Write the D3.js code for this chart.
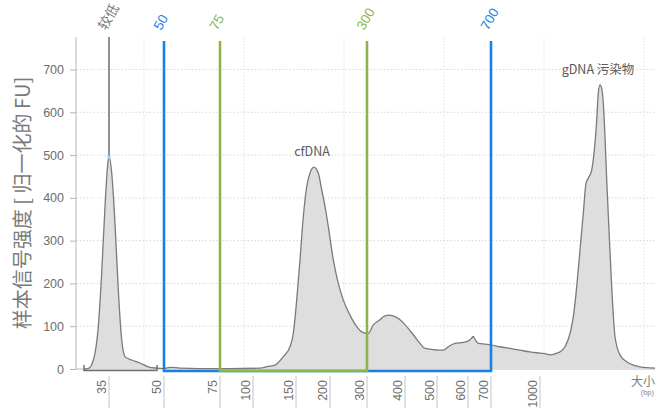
<!DOCTYPE html>
<html>
<head>
<meta charset="utf-8">
<script src="https://cdn.jsdelivr.net/npm/d3@7/dist/d3.min.js"></script>
<style>
  html, body { margin: 0; padding: 0; background: #fff; }
  svg { display: block; }
  text { font-family: "Liberation Sans", Arial, sans-serif; }
  .cjk { font-family: "Noto Sans CJK SC", "Noto Sans", sans-serif; }
</style>
</head>
<body>
<svg id="chart" width="669" height="408"></svg>
<script>
// Electropherogram: sample signal vs. migration time, sized with a bp ladder.

// Ladder calibration: fragment size (bp) and the migration time at which it runs (s)
const ladderSizes = [35, 50, 75, 100, 150, 200, 300, 400, 500, 600, 700, 1000];
const ladderTimes = [6.5, 12.0, 17.6, 20.9, 25.2, 28.6, 32.3, 36.1, 39.3, 42.4, 44.7, 49.6];

// Sample trace: migration time (s) and normalized signal (FU)
const traceTime = [
  4.0, 4.4, 4.7, 4.93, 5.1, 5.43, 5.77, 6.1, 6.43, 6.53, 6.77, 7.1, 7.43, 7.77, 8.1, 8.77, 9.6, 10.43, 11.27,
  12.0, 12.6, 13.6, 15.6, 18.6, 21.6, 22.4, 23.1, 23.93, 24.6, 24.93, 25.27, 25.6, 25.93, 26.27, 26.6, 27.0,
  27.43, 27.77, 28.1, 28.43, 28.93, 29.43, 29.93, 30.6, 31.27, 31.93, 32.43, 32.93, 33.6, 33.93, 34.43, 34.93,
  35.6, 36.27, 36.93, 37.6, 38.1, 38.77, 39.43, 39.93, 40.43, 41.1, 41.93, 42.6, 42.93, 43.1, 43.43, 44.1,
  44.77, 45.6, 46.6, 47.6, 48.6, 49.6, 50.27, 50.6, 51.27, 51.6, 52.1, 52.6, 52.93, 53.27, 53.6, 53.93, 54.2,
  54.43, 54.77, 55.0, 55.27, 55.43, 55.6, 55.77, 55.93, 56.1, 56.27, 56.5, 56.77, 57.1, 57.6, 58.27, 58.93,
  59.6, 60.27, 61.1
];
const traceFU = [
  0, 1, 7, 21, 37, 99, 225, 380, 489, 495, 458, 341, 185, 68, 29, 21, 14, 5, 2,
  1, 4, 2, 1, 1, 2, 6, 9, 29, 52, 83, 161, 255, 356, 426, 458, 472,
  458, 419, 380, 333, 255, 200, 161, 126, 99, 85, 83, 103, 115, 122, 126, 124,
  115, 99, 80, 60, 48, 46, 44, 44, 52, 60, 62, 68, 76, 69, 60, 58,
  56, 52, 48, 44, 40, 37, 35, 33, 37, 40, 52, 83, 122, 192, 278, 364, 434,
  446, 465, 504, 582, 645, 664, 656, 621, 543, 442, 325, 192, 76, 33, 17, 9,
  5, 3, 2
];

// Axis ticks
const yTicks = [0, 100, 200, 300, 400, 500, 600, 700];
const timeGrid = [10, 20, 30, 40, 50, 60];

// Lower marker and size windows
const markerSize = 35;
const markerLabel = "较低";
const markerWindow = [4.0, 11.3];
const outerWindow = [50, 700];
const innerWindow = [75, 300];

// Peak annotations
const peakNotes = [
  { text: "cfDNA", time: 27.0, fu: 472 },
  { text: "gDNA 污染物", time: 55.6, fu: 664 }
];

const yTitle = "样本信号强度 [ 归一化的 FU]";
const xTitle = "大小";
const xUnit = "(bp)";

const BLUE = "#1a7fe6";
const GREEN = "#8ab54b";

const svg = d3.select("#chart");
const plotLeft = 76, plotRight = 655, plotTop = 37, plotBottom = 369;

const x = d3.scaleLinear().domain([3.2, 61.1]).range([plotLeft, plotRight]);
const y = d3.scaleLinear().domain([0, 776]).range([plotBottom, plotTop]);
const bpToTime = d3.scaleLinear().domain(ladderSizes).range(ladderTimes);
const xb = bp => x(bpToTime(bp));

// Grid
const grid = svg.append("g");
grid.selectAll("line.h").data(yTicks.filter(d => d > 0)).join("line")
  .attr("x1", plotLeft).attr("x2", plotRight)
  .attr("y1", d => y(d)).attr("y2", d => y(d))
  .attr("stroke", "#d6d6d6").attr("stroke-width", 1).attr("stroke-dasharray", "1.5,2");
grid.selectAll("line.v").data(timeGrid).join("line")
  .attr("x1", d => x(d)).attr("x2", d => x(d))
  .attr("y1", plotTop).attr("y2", plotBottom)
  .attr("stroke", "#e0e0e0").attr("stroke-width", 1).attr("stroke-dasharray", "1.5,2");

// Y axis
const yAxis = svg.append("g").attr("transform", `translate(${plotLeft},0)`)
  .call(d3.axisLeft(y).tickValues(yTicks).tickSize(6).tickPadding(6));
yAxis.select(".domain").attr("stroke", "#b5b5b5").attr("d", `M0,${plotTop}V${plotBottom}`);
yAxis.selectAll(".tick line").attr("stroke", "#b5b5b5");
yAxis.selectAll(".tick text").attr("fill", "#6e6e6e").attr("font-size", 12.5);

svg.append("text").attr("class", "cjk")
  .attr("transform", `translate(30,${(plotTop + plotBottom) / 2}) rotate(-90)`)
  .attr("text-anchor", "middle").attr("fill", "#7a7a7a").attr("font-size", 20)
  .text(yTitle);

// X baseline
svg.append("line").attr("x1", plotLeft).attr("x2", plotRight).attr("y1", y(0)).attr("y2", y(0))
  .attr("stroke", "#bdbdbd").attr("stroke-width", 1.2);

// Trace
const pts = traceTime.map((t, i) => [t, traceFU[i]]);
svg.append("path").datum(pts)
  .attr("fill", "#dedede")
  .attr("d", d3.area().x(d => x(d[0])).y0(y(0)).y1(d => y(d[1])).curve(d3.curveMonotoneX));
svg.append("path").datum(pts)
  .attr("fill", "none").attr("stroke", "#7a7a7a").attr("stroke-width", 1.3)
  .attr("d", d3.line().x(d => x(d[0])).y(d => y(d[1])).curve(d3.curveMonotoneX));

// Lower marker line and bracket
const markerPeak = d3.max(pts.filter(p => p[0] < markerWindow[1]), p => p[1]);
svg.append("line")
  .attr("x1", xb(markerSize)).attr("x2", xb(markerSize))
  .attr("y1", plotTop).attr("y2", y(markerPeak))
  .attr("stroke", "#6d7580").attr("stroke-width", 1.6);
svg.append("circle").attr("cx", xb(markerSize)).attr("cy", y(markerPeak)).attr("r", 1.8)
  .attr("fill", "#a9d2f5");
svg.append("path")
  .attr("d", `M${x(markerWindow[0])},${y(0) - 4}V${y(0) + 1.5}H${x(markerWindow[1])}V${y(0) - 4}`)
  .attr("fill", "none").attr("stroke", "#6f6f6f").attr("stroke-width", 1.4);

// Size windows
function windowBox(range, color) {
  const x0 = xb(range[0]), x1 = xb(range[1]);
  svg.append("path")
    .attr("d", `M${x0},${plotTop + 4}V${y(0) + 2}H${x1}V${plotTop + 4}`)
    .attr("fill", "none").attr("stroke", color).attr("stroke-width", 2.6);
}
windowBox(outerWindow, BLUE);
windowBox(innerWindow, GREEN);

// Rotated labels above the marker and window edges
const topLabels = [
  { bp: markerSize, text: markerLabel, color: "#7a7a7a", cjk: true },
  { bp: outerWindow[0], text: String(outerWindow[0]), color: BLUE },
  { bp: innerWindow[0], text: String(innerWindow[0]), color: GREEN },
  { bp: innerWindow[1], text: String(innerWindow[1]), color: GREEN },
  { bp: outerWindow[1], text: String(outerWindow[1]), color: BLUE }
];
svg.selectAll("text.top").data(topLabels).join("text")
  .attr("class", d => d.cjk ? "cjk" : null)
  .attr("transform", d => `translate(${xb(d.bp) - 3},31) rotate(-60)`)
  .attr("fill", d => d.color).attr("font-size", 13.5)
  .text(d => d.text);

// X ticks (bp)
const xt = svg.append("g");
xt.selectAll("line").data(ladderSizes).join("line")
  .attr("x1", d => xb(d)).attr("x2", d => xb(d))
  .attr("y1", 376).attr("y2", 408)
  .attr("stroke", "#c4c4c4").attr("stroke-width", 1);
xt.selectAll("text").data(ladderSizes).join("text")
  .attr("transform", d => `translate(${xb(d) - 3.5},380) rotate(-90)`)
  .attr("text-anchor", "end").attr("fill", "#6e6e6e").attr("font-size", 12.5)
  .text(d => d);

svg.append("text").attr("class", "cjk")
  .attr("x", plotRight).attr("y", 386).attr("text-anchor", "end")
  .attr("fill", "#7a7a7a").attr("font-size", 12).text(xTitle);
svg.append("text")
  .attr("x", plotRight - 1).attr("y", 395).attr("text-anchor", "end")
  .attr("fill", "#8a8a8a").attr("font-size", 7.5).text(xUnit);

// Peak annotations
svg.selectAll("text.note").data(peakNotes).join("text")
  .attr("class", "cjk")
  .attr("x", d => x(d.time) - 2).attr("y", d => y(d.fu) - 11)
  .attr("text-anchor", "middle").attr("fill", "#5a5a5a").attr("font-size", 12.5)
  .text(d => d.text);
</script>
</body>
</html>
